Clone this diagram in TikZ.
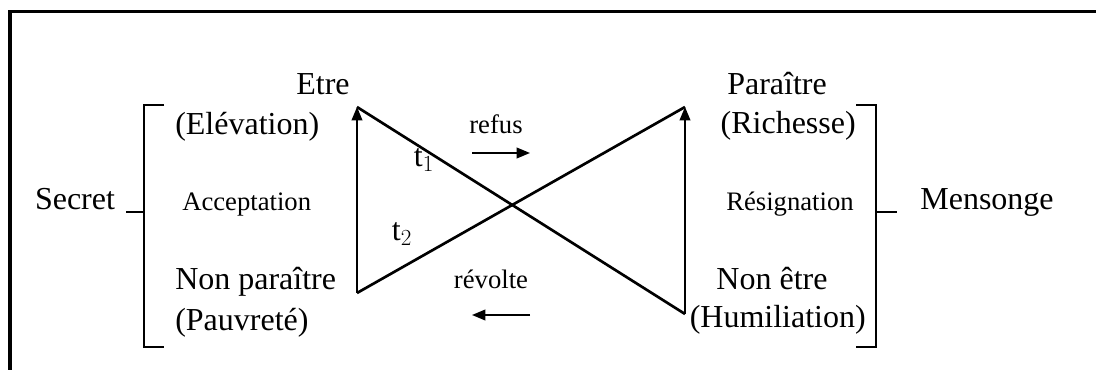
\documentclass[tikz,border=0pt]{standalone}
\usepackage{fontspec}
\setmainfont{Liberation Serif}
\usetikzlibrary{arrows.meta}

\begin{document}
\begin{tikzpicture}[x=0.75pt, y=-0.75pt,
    big/.style={font=\fontsize{24}{26}\selectfont, inner sep=0pt},
    small/.style={font=\fontsize{20}{22}\selectfont, inner sep=0pt},
    brace/.style={line width=1.6pt},
    tip/.style={-{Triangle[length=10pt, width=8pt]}}]
    \useasboundingbox (0,0) rectangle (1096,370);

    %frame
    \draw[line width=2.3pt] (10,370) -- (10,11.5) -- (1096,11.5);

    %corners
    \coordinate (etre) at (357,107);
    \coordinate (paraitre) at (685,107);
    \coordinate (nonpar) at (357,293);
    \coordinate (nonetre) at (685,314);

    %triangles
    \draw[tip, line width=1.3pt] (nonpar) -- (etre);
    \draw[tip, line width=1.3pt] (nonetre) -- (paraitre);
    \draw[line width=2pt] (etre) -- (nonetre);
    \draw[line width=2pt] (nonpar) -- (paraitre);
    \node[big] (tone) at (424,160) {t$_1$};
    \node[big] (ttwo) at (402,234) {t$_2$};

    %left side
    \node[big, anchor=base] (etretxt) at (323,95) {Etre};
    \node[big, anchor=base west] (elev) at (175,135) {(Elévation)};
    \node[small, anchor=base west] (accept) at (182,211) {Acceptation};
    \node[big, anchor=base west] (nonpartxt) at (175,290) {Non paraître};
    \node[big, anchor=base west] (pauv) at (175,330) {(Pauvreté)};
    \node[big, anchor=base] (secret) at (75,210) {Secret};

    %right side
    \node[big, anchor=base] (partxt) at (777,95) {Paraître};
    \node[big, anchor=base east] (rich) at (856,134) {(Richesse)};
    \node[small, anchor=base] (resign) at (790,211) {Résignation};
    \node[big, anchor=base] (nonetretxt) at (772,290) {Non être};
    \node[big, anchor=base east] (humil) at (866,328) {(Humiliation)};
    \node[big, anchor=base] (mensonge) at (987,210) {Mensonge};

    %brackets
    \draw[brace] (164,105) -- (144,105) -- (144,347) -- (164,347);
    \draw[brace] (126,212) -- (144,212);
    \draw[brace] (856,105) -- (876,105) -- (876,347) -- (856,347);
    \draw[brace] (876,212) -- (897,212);

    %refus / revolte
    \node[small, anchor=base] (refus) at (496,134) {refus};
    \node[small, anchor=base] (revolte) at (491,289) {révolte};
    \coordinate (refusa) at (472,153);
    \coordinate (refusb) at (530,153);
    \coordinate (revolta) at (530,315);
    \coordinate (revoltb) at (472,315);
    \draw[tip, line width=1.3pt] (refusa) -- (refusb);
    \draw[tip, line width=1.3pt] (revolta) -- (revoltb);
\end{tikzpicture}
\end{document}
